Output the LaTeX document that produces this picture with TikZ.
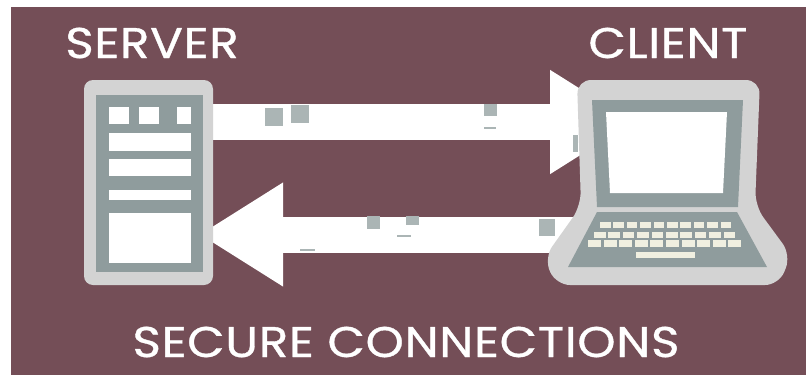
\documentclass[tikz,border=0pt]{standalone}
\usepackage{fontspec}
\setmainfont{Poppins}[FakeBold=0.8, FakeStretch=1.13, LetterSpace=1.5]
\usetikzlibrary{arrows.meta}
\pgfdeclarelayer{back}
\pgfsetlayers{back,main}
\definecolor{wine}{RGB}{116,78,87}
\definecolor{halo}{RGB}{211,211,211}
\definecolor{slate}{RGB}{143,156,157}
\definecolor{keycap}{RGB}{240,239,224}

\begin{document}
\begin{tikzpicture}[x=1pt, y=-1pt,
			t/.style={text=white, inner sep=0pt, anchor=center, font=\fontsize{43}{43}\selectfont},
			slot/.style={fill=white, inner sep=0pt},
			speck/.style={fill=slate!75, inner sep=0pt},
			pipe/.style={white, line width=36pt, -{Triangle[length=84pt, width=98pt]}}]
		\useasboundingbox (0,0) rectangle (806,375);
		% titles
		\node[t] (server title) at (152,43) {SERVER};
		\node[t] (client title) at (668,43) {CLIENT};
		\node[t] (caption) at (406,342) {SECURE CONNECTIONS};
		% server
		\node[fill=halo, rounded corners=9pt, inner sep=0pt, minimum width=129pt, minimum height=205pt] (server) at (148.5,182.5) {};
		\node[fill=slate, inner sep=0pt, minimum width=107pt, minimum height=177pt] (rack) at (149.5,183.5) {};
		\foreach \n/\x/\y/\w/\h in {a/119/115.5/20/17, b/149/115.5/20/17, c/184/115.5/14/17,
				d/150/142/82/18, e/150/167.5/82/17, f/150/195/82/10, g/150/238/82/50}
			\node[slot, minimum width=\w pt, minimum height=\h pt] (slot\n) at (\x,\y) {};
		% arrows
		\coordinate (uptip) at (634,122);
		\coordinate (downend) at (575,234.5);
		\begin{pgfonlayer}{back}
			\fill[wine] (11,7) rectangle (806,375);
			\draw[pipe] (server.east |- uptip) -- (uptip);
			\draw[pipe, shorten >=-14pt] (downend) -- (server.east |- downend);
		\end{pgfonlayer}
		% laptop
		\fill[halo, rounded corners=14pt] (577,80) -- (760,80) -- (755,206) -- (791,255) -- (779,285)
			-- (556,285) -- (544,258) -- (581,206) -- cycle;
		\fill[slate] (592,100) -- (743,100) -- (738,207) -- (597,207) -- cycle;
		\fill[white] (606,112) -- (727,112) -- (723,193) -- (610,193) -- cycle;
		\fill[slate] (597,212) -- (737,212) -- (767,267) -- (568,267) -- cycle;
		\foreach \r/\y/\l/\s/\w/\h in {0/225/600/13.4/10.5/6, 1/234.5/594/14.4/11.5/6, 2/243.5/588/15.6/13/7}
			\foreach \c in {0,...,9}
				\node[fill=keycap, inner sep=0pt, minimum width=\w pt, minimum height=\h pt] (key\r\c) at (\l+\w/2+\c*\s,\y) {};
		\node[fill=keycap, inner sep=0pt, minimum width=59pt, minimum height=6pt] (spacebar) at (665.5,255) {};
		% specks on the arrows
		\foreach \n/\x/\y/\w/\h in {a/274/117/18/18, b/300/114/18/18, c/490/110/13/12, d/490/127.5/12/2,
				e/575.5/143/5/17, f/373/222/13/13, g/412/220/13/9, h/404/236/14/2, i/307/250/15/2, j/547/227/16/17}
			\node[speck, minimum width=\w pt, minimum height=\h pt] (speck\n) at (\x,\y) {};
\end{tikzpicture}
\end{document}
